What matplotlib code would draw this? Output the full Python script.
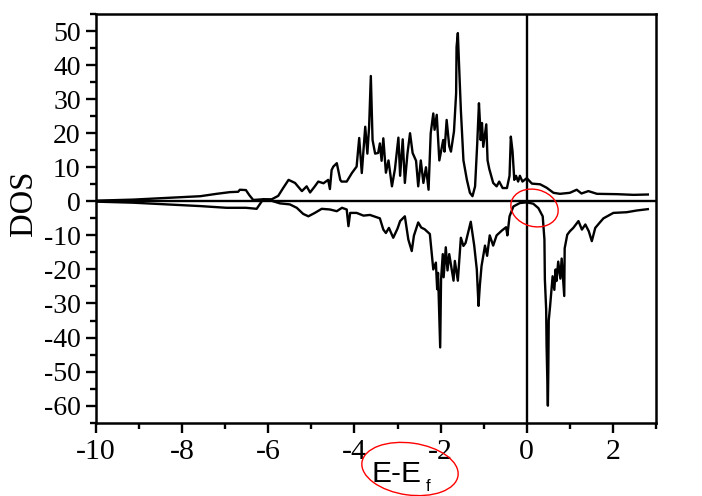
import numpy as np
import matplotlib; matplotlib.use('Agg')
import matplotlib.pyplot as plt
from matplotlib.patches import Ellipse
from matplotlib.ticker import MultipleLocator
from matplotlib import rcParams
rcParams.update({'font.family': 'Liberation Serif', 'axes.unicode_minus': False})

# spin-up DOS (positive branch)
e_up = [-9.98, -9.14, -8.36, -7.58, -7.20, -6.89, -6.70, -6.66, -6.52, -6.44, -6.35, -6.12, -5.92,
        -5.77, -5.65, -5.53, -5.38, -5.22, -5.11, -5.03, -4.92, -4.84, -4.72, -4.61, -4.57, -4.53,
        -4.49, -4.41, -4.33, -4.30, -4.18, -4.06, -3.95, -3.89, -3.83, -3.75, -3.70, -3.66, -3.62,
        -3.58, -3.52, -3.45, -3.41, -3.37, -3.33, -3.27, -3.21, -3.13, -3.06, -2.98, -2.94, -2.88,
        -2.83, -2.77, -2.71, -2.65, -2.57, -2.52, -2.46, -2.40, -2.34, -2.28, -2.23, -2.17, -2.14,
        -2.09, -2.03, -1.94, -1.91, -1.86, -1.80, -1.76, -1.69, -1.64, -1.63, -1.60, -1.57, -1.53,
        -1.47, -1.39, -1.32, -1.26, -1.20, -1.15, -1.11, -1.09, -1.07, -1.04, -1.01, -0.94, -0.91,
        -0.87, -0.78, -0.70, -0.64, -0.56, -0.46, -0.40, -0.37, -0.33, -0.29, -0.25, -0.20, -0.16,
        -0.10, 0.00, 0.12, 0.31, 0.46, 0.62, 0.77, 1.00, 1.16, 1.27, 1.43, 1.63, 2.09, 2.48, 2.81]
dos_up = [0.2, 0.5, 1.0, 1.5, 2.2, 2.7, 2.8, 3.4, 3.3, 1.8, 0.4, 0.6, 0.6,
          1.6, 4.0, 6.3, 5.4, 3.0, 4.4, 2.6, 4.4, 5.8, 5.3, 6.3, 3.6, 9.2,
          10.2, 11.2, 6.3, 5.8, 5.8, 8.3, 10.2, 18.6, 8.3, 21.9, 14.0, 21.9, 36.8,
          18.0, 14.0, 14.2, 17.0, 11.9, 18.5, 8.4, 12.0, 4.4, 9.5, 18.7, 7.5, 18.2,
          5.4, 14.0, 20.0, 14.2, 11.9, 4.4, 12.0, 5.4, 10.0, 3.4, 20.0, 25.8, 21.0,
          25.4, 12.0, 18.0, 14.6, 23.9, 16.2, 14.6, 20.5, 31.7, 45.3, 49.4, 39.5, 26.8,
          12.0, 6.3, 2.5, 1.5, 4.4, 17.0, 28.8, 24.0, 18.0, 23.0, 16.0, 22.6, 12.0,
          9.5, 5.4, 4.4, 5.8, 3.9, 3.9, 7.5, 19.0, 14.6, 6.3, 7.5, 5.8, 7.5,
          5.8, 6.8, 5.2, 5.0, 4.0, 2.5, 2.2, 2.5, 3.4, 2.3, 3.0, 2.2, 2.1, 1.9, 2.0]

# spin-down DOS (negative branch)
e_dn = [-9.98, -9.14, -8.36, -7.58, -6.97, -6.52, -6.27, -6.12, -5.96, -5.73, -5.50, -5.34, -5.19,
        -5.07, -4.92, -4.76, -4.57, -4.41, -4.29, -4.18, -4.14, -4.10, -3.95, -3.79, -3.64, -3.41,
        -3.33, -3.27, -3.20, -3.10, -3.00, -2.94, -2.83, -2.75, -2.67, -2.62, -2.52, -2.45, -2.37,
        -2.25, -2.17, -2.11, -2.08, -2.06, -2.01, -1.99, -1.95, -1.93, -1.88, -1.84, -1.80, -1.70,
        -1.67, -1.60, -1.53, -1.47, -1.42, -1.30, -1.22, -1.16, -1.12, -1.09, -1.05, -0.97, -0.92,
        -0.86, -0.78, -0.70, -0.58, -0.48, -0.45, -0.40, -0.31, -0.16, 0.00, 0.15, 0.27, 0.37,
        0.41, 0.42, 0.45, 0.46, 0.49, 0.50, 0.51, 0.54, 0.60, 0.64, 0.67, 0.69, 0.73, 0.78,
        0.81, 0.87, 0.88, 0.94, 1.00, 1.08, 1.20, 1.28, 1.36, 1.44, 1.51, 1.59, 1.69, 1.78,
        2.01, 2.32, 2.55, 2.81]
dos_dn = [-0.1, -0.4, -0.9, -1.4, -1.9, -1.9, -2.2, 0.6, 0.3, -0.6, -0.9, -1.9, -3.7,
          -4.4, -3.4, -2.2, -2.4, -2.9, -1.9, -2.4, -7.3, -3.4, -3.4, -4.2, -4.0, -5.0,
          -8.3, -9.3, -7.8, -10.7, -8.0, -5.8, -4.4, -11.2, -14.6, -10.1, -6.2, -7.7, -8.2,
          -9.6, -20.0, -18.0, -25.8, -21.0, -42.9, -23.0, -15.5, -22.3, -13.5, -20.3, -15.5, -23.3,
          -17.5, -23.3, -10.7, -13.1, -12.2, -6.0, -13.0, -20.0, -30.7, -24.8, -19.0, -13.0, -16.0,
          -10.0, -13.0, -10.0, -8.6, -7.6, -10.0, -4.4, -1.5, -0.5, -0.3, -0.7, -2.0, -4.4,
          -11.2, -22.9, -31.7, -42.4, -60.0, -50.0, -35.0, -31.0, -22.0, -26.0, -20.0, -23.4, -17.7, -22.7,
          -16.8, -27.8, -13.8, -9.8, -8.8, -7.8, -5.8, -8.3, -6.8, -8.8, -11.7, -7.8, -6.3, -5.0,
          -3.4, -3.2, -2.7, -2.3]

W, H = 702, 496
fig = plt.figure(figsize=(W/100, H/100), dpi=100)
ax = fig.add_axes([96/W, 1-422.7/H, (656-96)/W, (422.7-14)/H])

ax.plot(e_up, dos_up, color='black', lw=1.7)
ax.plot(e_dn, dos_dn, color='black', lw=1.7)
ax.axhline(0, color='black', lw=1.7)
ax.axvline(0, color='black', lw=1.7)

ax.set_xlim(-10, 3)
ax.set_ylim(-65, 55)
ax.xaxis.set_major_locator(MultipleLocator(2))
ax.xaxis.set_minor_locator(MultipleLocator(1))
ax.yaxis.set_major_locator(MultipleLocator(10))
ax.yaxis.set_minor_locator(MultipleLocator(5))
ax.tick_params(which='both', direction='out', width=1.7, top=False, right=False)
ax.tick_params(which='major', length=7)
ax.tick_params(which='minor', length=4)
ax.tick_params(axis='x', labelsize=21.5, pad=5)
ax.tick_params(axis='y', labelsize=20, pad=4)
for s in ax.spines.values():
    s.set_linewidth(1.8)

fig.text(24/W, 1-203/H, 'DOS', rotation=90, ha='center', va='center', fontsize=23.5)
fig.text(371/W, 1-482/H, 'E-E', ha='left', va='baseline', fontsize=21.5,
         family='Liberation Sans')
fig.text(426/W, 1-491/H, 'f', ha='left', va='baseline', fontsize=12, family='Liberation Sans')

# red hand-drawn marks
ov = fig.add_axes([0, 0, 1, 1]); ov.set_xlim(0, W); ov.set_ylim(H, 0); ov.axis('off')
ov.add_patch(Ellipse((410, 469), 97, 52, angle=8, fill=False, edgecolor='red', lw=1))
ov.add_patch(Ellipse((534.5, 208), 48, 37, angle=15, fill=False, edgecolor='red', lw=1))

fig.savefig('out.png', dpi=100, facecolor='white')
